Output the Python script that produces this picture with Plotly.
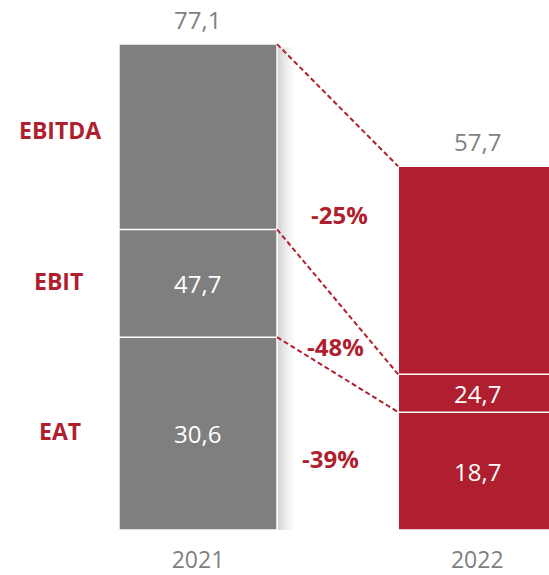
import plotly.graph_objects as go

# ---- data ----
years = ["2021", "2022"]
metrics = ["EBITDA", "EBIT", "EAT"]
values_2021 = [77.1, 47.7, 30.6]
values_2022 = [57.7, 24.7, 18.7]

GRAY = "#7f7f7f"
RED = "#b01f2f"
FONT = "Open Sans"
BAR_W = 0.566

series = [values_2021, values_2022]
colors = [GRAY, RED]
xpos = [0, 1]


def fmt(v):
    return f"{v:.1f}".replace(".", ",")


fig = go.Figure()

# nested bars: full EBITDA first, then EBIT and EAT drawn over it
for xi, vals, col in zip(xpos, series, colors):
    for v in vals:
        fig.add_trace(go.Bar(
            x=[xi], y=[v], width=BAR_W,
            marker=dict(color=col, line=dict(color="white", width=1.5)),
            showlegend=False, hoverinfo="skip",
        ))

# soft shadow on the right side of the 2021 column
edge = xpos[0] + BAR_W / 2
step = 0.0075
for i in range(9):
    fig.add_shape(type="rect", xref="x", yref="y",
                  x0=edge + i * step, x1=edge + (i + 1) * step,
                  y0=0, y1=values_2021[0] - 0.5,
                  fillcolor=f"rgba(0,0,0,{0.17 * (1 - i / 9) ** 1.4:.3f})",
                  line=dict(width=0), layer="below")

annotations = []
for xi, vals in zip(xpos, series):
    total, mid, low = vals
    # total above the column
    annotations.append(dict(x=xi, y=total, text=fmt(total), showarrow=False,
                            yanchor="bottom", yshift=6,
                            font=dict(family=FONT, size=24, color=GRAY)))
    # values inside the lower segments
    annotations.append(dict(x=xi, y=(mid + low) / 2, text=fmt(mid), showarrow=False,
                            font=dict(family=FONT, size=24, color="white")))
    annotations.append(dict(x=xi, y=low / 2, text=fmt(low), showarrow=False,
                            font=dict(family=FONT, size=24, color="white")))

# connector lines between matching levels
for a, b in zip(values_2021, values_2022):
    fig.add_shape(type="line", xref="x", yref="y",
                  x0=xpos[0] + BAR_W / 2, y0=a, x1=xpos[1] - BAR_W / 2, y1=b,
                  line=dict(color=RED, width=2, dash="5px,3px"))

# metric names on the left, beside the 2021 segments
bounds = values_2021 + [0]
name_shift = [7, 2, 3]
name_x = [60, 58, 60]
for i, name in enumerate(metrics):
    ymid = (bounds[i] + bounds[i + 1]) / 2
    annotations.append(dict(xref="paper", x=name_x[i] / 549, xanchor="center",
                            y=ymid, yshift=name_shift[i],
                            text=f"<b>{name}</b>", showarrow=False,
                            font=dict(family=FONT, size=23, color=RED)))

# percentage change labels between the columns
pct_pos = [(0.508, 50.1), (0.491, 29.1), (0.473, 11.4)]
for (px, py), a, b in zip(pct_pos, values_2021, values_2022):
    pct = round((b / a - 1) * 100)
    annotations.append(dict(x=px, y=py, text=f"<b>{pct}%</b>", showarrow=False,
                            font=dict(family=FONT, size=24, color=RED)))

fig.update_layout(
    width=549, height=575,
    margin=dict(l=0, r=0, t=0, b=43),
    barmode="overlay",
    plot_bgcolor="white", paper_bgcolor="white",
    annotations=annotations,
    xaxis=dict(range=[-0.709, 1.257], tickvals=xpos, ticktext=years,
               showgrid=False, zeroline=False, showline=False, ticks="",
               ticklabelstandoff=14,
               tickfont=dict(family=FONT, size=23, color=GRAY)),
    yaxis=dict(range=[0, 84.1], visible=False),
)

fig.write_html("out.html")
